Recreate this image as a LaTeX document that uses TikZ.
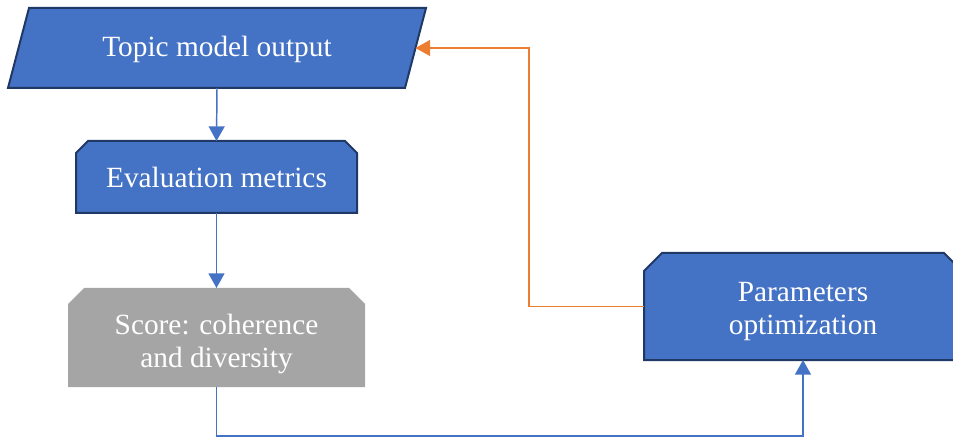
\documentclass[tikz,border=0pt]{standalone}
\usepackage{fontspec}
\setmainfont{Liberation Serif}
\newfontfamily\labelface{Liberation Serif}
\usetikzlibrary{arrows.meta}
\definecolor{boxblue}{HTML}{4472C4}
\definecolor{boxedge}{HTML}{203864}
\definecolor{scoregray}{HTML}{A5A5A5}
\definecolor{loopline}{HTML}{ED7D31}
% box with its two upper corners cut off: #1 path style, #2 node name, #3 cut size
\newcommand\cutcornerbox[3]{%
  \path[#1] (#2.south west) -- ([yshift=-#3]#2.north west) -- ([xshift=#3]#2.north west)
    -- ([xshift=-#3]#2.north east) -- ([yshift=-#3]#2.north east) -- (#2.south east) -- cycle;}
\begin{document}
\begin{tikzpicture}[x=0.75pt,y=-0.75pt,
  boxtext/.style={text=white,font=\labelface\fontsize{22}{24.75}\selectfont,align=center,inner sep=0pt},
  frame/.style={inner sep=0pt,outer sep=0pt},
  edgeline/.style={fill=boxblue,draw=boxedge,line width=1.5pt,line join=miter},
  grayfill/.style={fill=scoregray},
  link/.style={draw=boxblue,line width=1.1pt,-{Triangle[length=11pt,width=12pt]}},
  feedback/.style={draw=loopline,line width=1.1pt,-{Triangle[length=11pt,width=12pt]}}
]
\useasboundingbox (0,0) rectangle (953,438);
\clip (0,0) rectangle (953,438);

% output of the topic model: a parallelogram drawn around a plain node
\node[frame,minimum width=297.75pt,minimum height=60pt] (topic) at (217,48) {};
\path[edgeline] ([xshift=-7.875pt]topic.south west) -- ([xshift=7.875pt]topic.north west)
  -- ([xshift=7.875pt]topic.north east) -- ([xshift=-7.875pt]topic.south east) -- cycle;
\node[boxtext] at ([yshift=-0.75pt]topic.center) {Topic model output};

% evaluation metrics
\node[frame,minimum width=210.75pt,minimum height=54pt] (eval) at (216.5,177) {};
\cutcornerbox{edgeline}{eval}{9pt}
\node[boxtext] at (eval.center) {Evaluation metrics};

% resulting score
\node[frame,minimum width=222.75pt,minimum height=74.25pt] (score) at (216.5,337.5) {};
\cutcornerbox{grayfill}{score}{12pt}
\node[boxtext] at ([yshift=-4.5pt]score.center) {Score: coherence\\and diversity};

% parameter tuning
\node[frame,minimum width=238.5pt,minimum height=80.25pt] (params) at (803,306.5) {};
\cutcornerbox{edgeline}{params}{13.5pt}
\node[boxtext] at ([yshift=-3.75pt]params.center) {Parameters\\optimization};

% forward flow
\draw[link] (topic.south) -- (eval.north);
\draw[link] (eval.south) -- (score.north);
\draw[link] (score.south) -- ++(0,49) -| (params.south);

% feedback loop
\draw[feedback] (params.west) -- ++(-115,0) |- (topic.east);
\end{tikzpicture}
\end{document}
